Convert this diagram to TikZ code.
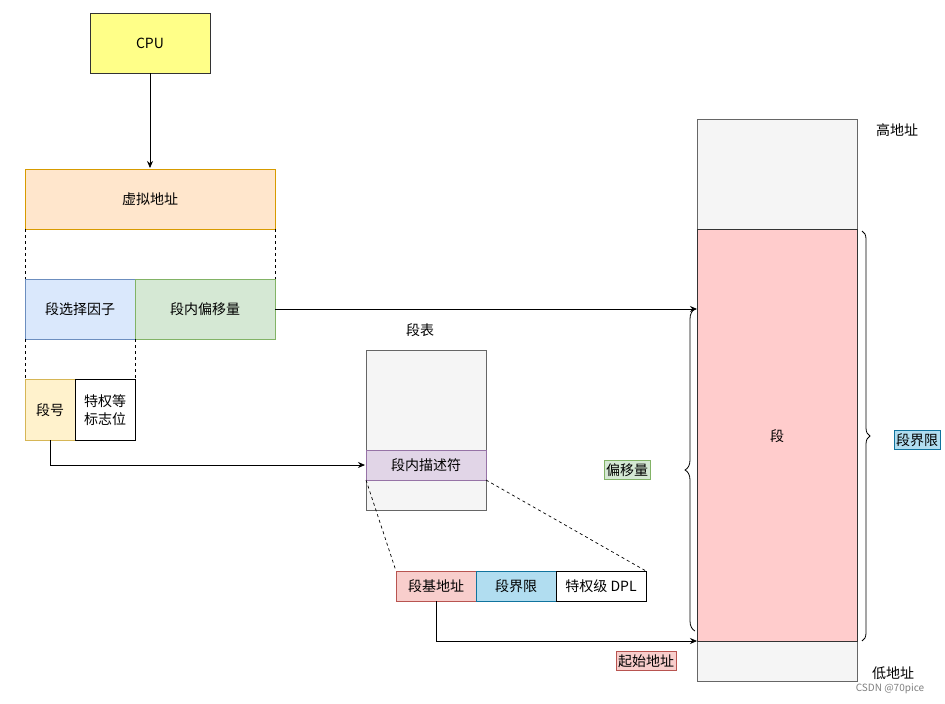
\documentclass[tikz,border=0pt]{standalone}
\usepackage{fontspec}
\setmainfont{Noto Sans CJK SC}
\usetikzlibrary{arrows.meta,decorations.pathreplacing}
\definecolor{yel}{HTML}{FFFF88}\definecolor{orf}{HTML}{FFE6CC}\definecolor{ord}{HTML}{D79B00}
\definecolor{blf}{HTML}{DAE8FC}\definecolor{bld}{HTML}{6C8EBF}\definecolor{grf}{HTML}{D5E8D4}\definecolor{grd}{HTML}{82B366}
\definecolor{ylf}{HTML}{FFF2CC}\definecolor{yld}{HTML}{D6B656}\definecolor{gyf}{HTML}{F5F5F5}\definecolor{gyd}{HTML}{666666}
\definecolor{puf}{HTML}{E1D5E7}\definecolor{pud}{HTML}{9673A6}\definecolor{rdf}{HTML}{F8CECC}\definecolor{rdd}{HTML}{B85450}
\definecolor{cyf}{HTML}{B1DDF0}\definecolor{cyd}{HTML}{10739E}\definecolor{pk}{HTML}{FFCCCC}
\begin{document}
\begin{tikzpicture}[x=1pt,y=-1pt,font=\fontsize{14}{17}\selectfont,
 bx/.style={draw,line width=0.8pt},
 arr/.style={-{Stealth[length=7pt,width=6pt]},line width=0.8pt},
 dsh/.style={dashed,line width=0.7pt},
 lbl/.style={draw,line width=0.8pt,inner sep=2pt,minimum height=19pt}]
\useasboundingbox[fill=white] (0,0) rectangle (945,704);
\draw[bx,fill=yel,draw=black!80] (90,13) rectangle (210,73);
\node (cpu) at (150,43) {CPU};
\draw[bx,fill=orf,draw=ord] (25,169) rectangle (275,229);
\node (va) at (150,199) {虚拟地址};
\draw[arr] (150,73) -- (150,168);
\draw[dsh] (25,229) -- (25,279); \draw[dsh] (275,229) -- (275,279);
\draw[bx,fill=blf,draw=bld] (25,279) rectangle (135,339);
\node (sel) at (80,309) {段选择因子};
\draw[bx,fill=grf,draw=grd] (135,279) rectangle (275,339);
\node (off) at (205,309) {段内偏移量};
\draw[dsh] (25,339) -- (25,379); \draw[dsh] (135,339) -- (135,379);
\draw[bx,fill=ylf,draw=yld] (25,379) rectangle (75,440);
\node (num) at (50,410) {段号};
\draw[bx] (75,379) rectangle (135,440);
\node[align=center,font=\fontsize{14}{18}\selectfont] (priv) at (105,410) {特权等\\标志位};
\node (tt) at (420,330) {段表};
\draw[bx,fill=gyf,draw=gyd] (366,350) rectangle (486,510);
\draw[bx,fill=puf,draw=pud] (366,450) rectangle (486,480);
\node (desc) at (426,465) {段内描述符};
\draw[arr] (50,440) -- (50,465) -- (365,465);
\draw[dsh] (366,480) -- (396,571); \draw[dsh] (486,480) -- (646,571);
\draw[bx,fill=rdf,draw=rdd] (396,571) rectangle (476,601);
\node (base) at (436,586) {段基地址};
\draw[bx,fill=cyf,draw=cyd] (476,571) rectangle (556,601);
\node (lim) at (516,586) {段界限};
\draw[bx] (556,571) rectangle (646,601);
\node (dpl) at (601,586) {特权级 DPL};
\draw[bx,fill=gyf,draw=gyd] (697,119) rectangle (857,681);
\draw[bx,fill=pk,draw=black!80] (697,229) rectangle (857,641);
\node (seg) at (777,436) {段};
\draw[arr] (275,309) -- (697,309);
\draw[arr] (436,601) -- (436,641) -- (697,641);
\node (hi) at (897,130) {高地址};
\node (lo) at (893,673) {低地址};
\draw[line width=0.8pt,decorate,decoration={brace,amplitude=8pt}] (862,231) -- (862,641);
\node[lbl,fill=cyf,draw=cyd] (lim2) at (917,440) {段界限};
\draw[line width=0.8pt,decorate,decoration={brace,amplitude=10pt}] (695,631) -- (695,309);
\node[lbl,fill=grf,draw=grd] (ofs) at (627,470) {偏移量};
\node[lbl,fill=rdf,draw=rdd] (start) at (646,661) {起始地址};
\node[text=gray,font=\fontsize{10}{12}\selectfont] (wm) at (890,689) {CSDN @70pice};
\end{tikzpicture}
\end{document}
